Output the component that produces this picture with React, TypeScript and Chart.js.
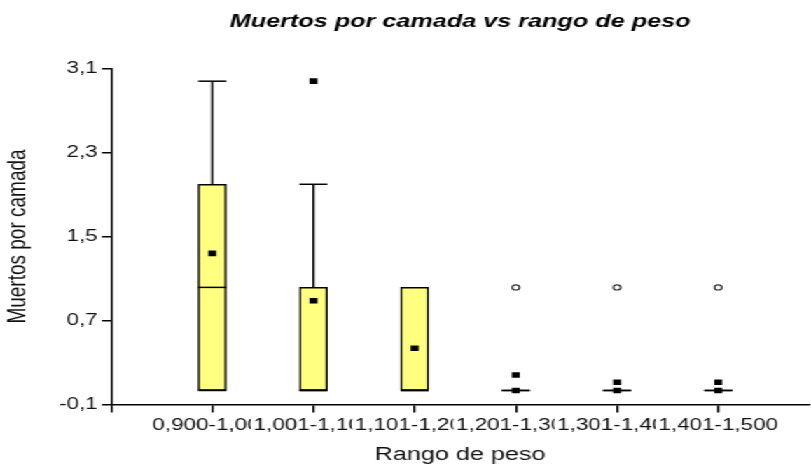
import React, { useEffect, useRef } from 'react';
import { Chart, registerables } from 'chart.js';

Chart.register(...registerables);

// ---- data ----
const chartTitle = 'Muertos por camada vs rango de peso';
const xTitle = 'Rango de peso';
const yTitle = 'Muertos por camada';
const categories = ['0,900-1,000', '1,001-1,100', '1,101-1,200', '1,201-1,300', '1,301-1,400', '1,401-1,500'];
const categoryPositions = [1, 2, 3, 4, 5, 6];
const whiskerLow = [0, 0, 0, 0, 0, 0];
const q1 = [0, 0, 0, 0, 0, 0];
const median = [1, 0, 0, 0, 0, 0];
const q3 = [2, 1, 1, 0, 0, 0];
const whiskerHigh = [3, 2, 1, 0, 0, 0];
const means = [1.33, 0.87, 0.41, 0.15, 0.08, 0.08];
const filledOutliers = [null, 3, null, 0, 0, 0];
const openOutliers = [null, null, null, 1, 1, 1];
const yMin = -0.136;
const yMax = 3.123;
const yTickLabels = ['-0,1', '0,7', '1,5', '2,3', '3,1'];
const xMax = 6.9;

const FONT = '"Liberation Sans", Arial, sans-serif';
const STRETCH = 811 / 579;

const toPoints = (vals: (number | null)[]) =>
  vals
    .map((v, i) => (v === null ? null : { x: categoryPositions[i], y: v }))
    .filter((p) => p !== null);

const boxPlugin = {
  id: 'boxWhiskers',
  afterDatasetDraw(chart: any, args: any) {
    if (args.index !== 0) return;
    const { ctx } = chart;
    const xs = chart.scales.x;
    const ys = chart.scales.y;
    ctx.save();
    ctx.strokeStyle = '#000';
    ctx.lineWidth = 1.5;
    ctx.lineCap = 'butt';
    const line = (x1: number, y1: number, x2: number, y2: number) => {
      ctx.beginPath();
      ctx.moveTo(x1, y1);
      ctx.lineTo(x2, y2);
      ctx.stroke();
    };
    args.meta.data.forEach((bar: any, i: number) => {
      const cx = xs.getPixelForValue(categoryPositions[i]);
      const half = bar.width / 2;
      const yQ1 = ys.getPixelForValue(q1[i]);
      const yQ3 = ys.getPixelForValue(q3[i]);
      const yHi = ys.getPixelForValue(whiskerHigh[i]);
      const yLo = ys.getPixelForValue(whiskerLow[i]);
      const yMed = ys.getPixelForValue(median[i]);
      if (whiskerHigh[i] > q3[i]) {
        line(cx, yQ3, cx, yHi);
        line(cx - half, yHi, cx + half, yHi);
      }
      if (whiskerLow[i] < q1[i]) line(cx, yQ1, cx, yLo);
      line(cx - half, yLo, cx + half, yLo);
      line(cx - half, yMed, cx + half, yMed);
    });
    ctx.restore();
  },
};

export default function App() {
  const ref = useRef<HTMLCanvasElement>(null);

  useEffect(() => {
    if (!ref.current) return;
    const chart = new Chart(ref.current, {
      type: 'bar',
      data: {
        datasets: [
          {
            type: 'bar',
            data: categoryPositions.map((p, i) => ({ x: p, y: [q1[i], q3[i]] })) as any,
            backgroundColor: '#FFFF80',
            borderColor: '#000',
            borderWidth: 1.5,
            borderSkipped: false,
            barThickness: 20,
            order: 10,
          } as any,
          {
            type: 'scatter',
            data: toPoints(means) as any,
            pointStyle: 'rect',
            pointRadius: 4,
            backgroundColor: '#000',
            borderWidth: 0,
            order: 1,
          } as any,
          {
            type: 'scatter',
            data: toPoints(filledOutliers) as any,
            pointStyle: 'rect',
            pointRadius: 4,
            backgroundColor: '#000',
            borderWidth: 0,
            order: 2,
          } as any,
          {
            type: 'scatter',
            data: toPoints(openOutliers) as any,
            pointStyle: 'circle',
            pointRadius: 2.6,
            backgroundColor: '#fff',
            borderColor: '#333',
            borderWidth: 1.2,
            order: 3,
          } as any,
        ],
      },
      options: {
        animation: false,
        responsive: true,
        maintainAspectRatio: false,
        devicePixelRatio: 1,
        layout: { padding: 0 },
        plugins: {
          legend: { display: false },
          tooltip: { enabled: false },
          title: {
            display: true,
            text: chartTitle,
            fullSize: false,
            color: '#000',
            font: { family: FONT, size: 18, weight: 'bold', style: 'italic', lineHeight: 1.2 },
            padding: { top: 11.5, bottom: 35.4 },
          },
        },
        scales: {
          x: {
            type: 'linear',
            offset: false,
            min: 0,
            max: xMax,
            afterBuildTicks: (scale: any) => {
              scale.ticks = [0, ...categoryPositions].map((v) => ({ value: v }));
            },
            afterFit: (scale: any) => {
              scale.height = 61.5;
            },
            ticks: {
              autoSkip: false,
              maxRotation: 0,
              minRotation: 0,
              padding: 3,
              color: '#111',
              font: { family: FONT, size: 16 },
              showLabelBackdrop: true,
              backdropColor: '#fff',
              backdropPadding: 2,
              callback: (v: any) => (v === 0 ? '' : categories[Number(v) - 1]),
            },
            grid: {
              offset: false,
              drawOnChartArea: false,
              drawTicks: true,
              tickLength: 8,
              color: '#000',
              lineWidth: 1.5,
            },
            border: { display: true, color: '#000', width: 1.5 },
            title: {
              display: true,
              text: xTitle,
              color: '#111',
              font: { family: FONT, size: 18, lineHeight: 1.2 },
              padding: { top: 0, bottom: 0 },
            },
          },
          y: {
            type: 'linear',
            min: yMin,
            max: yMax,
            afterBuildTicks: (scale: any) => {
              scale.ticks = yTickLabels.map((_, i) => ({
                value: yMin + (i * (yMax - yMin)) / (yTickLabels.length - 1),
              }));
            },
            afterFit: (scale: any) => {
              scale.width = 79.25;
            },
            ticks: {
              padding: 3,
              color: '#111',
              font: { family: FONT, size: 16 },
              callback: (_v: any, i: number) => yTickLabels[i],
            },
            grid: {
              drawOnChartArea: false,
              drawTicks: true,
              tickLength: 6.5,
              color: '#000',
              lineWidth: 1.5,
            },
            border: { display: true, color: '#000', width: 1.5 },
            title: {
              display: true,
              text: yTitle,
              color: '#111',
              font: { family: FONT, size: 19, lineHeight: 1.2 },
              padding: { top: 1, bottom: 0 },
            },
          },
        },
      },
      plugins: [boxPlugin],
    } as any);
    return () => chart.destroy();
  }, []);

  return (
    <div
      style={{
        position: 'fixed',
        left: 0,
        top: 0,
        width: 811,
        height: 466,
        overflow: 'hidden',
        background: '#fff',
      }}
    >
      <div
        style={{
          width: 583,
          height: 466,
          background: '#fff',
          transform: `scaleX(${STRETCH})`,
          transformOrigin: '0 0',
        }}
      >
        <canvas ref={ref} />
      </div>
    </div>
  );
}
